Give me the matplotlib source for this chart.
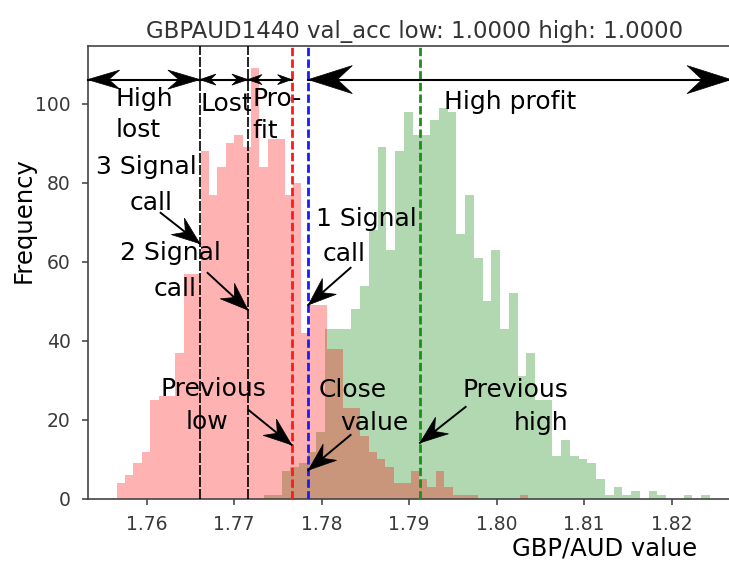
import numpy as np
import matplotlib
matplotlib.use("Agg")
import matplotlib.pyplot as plt
from matplotlib.patches import Polygon

# histogram counts
red_start = 1.75657
red_width = 0.00096
red_counts = [4, 6, 9, 12, 25, 26, 26, 37, 57, 57,
              88, 77, 84, 90, 92, 89, 109, 84, 91, 91,
              77, 80, 42, 49, 49, 38, 38, 23, 23, 16,
              12, 10, 8, 4, 4, 7, 5, 3, 7, 3,
              1, 1, 1, 0, 0, 0, 0, 0, 1, 0]

green_start = 1.77342
green_width = 0.000999
green_counts = [1, 1, 7, 8, 9, 12, 17, 43, 43, 43,
                48, 54, 68, 89, 63, 88, 98, 92, 92, 96,
                99, 98, 67, 77, 61, 50, 63, 43, 52, 31,
                37, 25, 25, 11, 15, 11, 10, 9, 5, 1,
                3, 1, 2, 0, 2, 1, 0, 0, 1, 0, 1]

# marker lines
high_lost_line = 1.76609
lost_line = 1.77158
prev_low = 1.77657
close_value = 1.77848
prev_high = 1.79124

xticks = [1.76, 1.77, 1.78, 1.79, 1.80, 1.81, 1.82]
yticks = [0, 20, 40, 60, 80, 100]

fig = plt.figure(figsize=(7.29, 5.63), dpi=100)
ax = fig.add_axes([88 / 729, 64 / 563, 653.6 / 729, 453 / 563])

red_edges = red_start + red_width * np.arange(len(red_counts) + 1)
green_edges = green_start + green_width * np.arange(len(green_counts) + 1)

ax.hist(green_edges[:-1], bins=green_edges, weights=green_counts, color="g", alpha=0.3)
ax.hist(red_edges[:-1], bins=red_edges, weights=red_counts, color="r", alpha=0.3)

ax.set_xlim(1.7533, 1.8280)
ax.set_ylim(0, 114.6)
ax.set_xticks(xticks)
ax.set_xticklabels(["%.2f" % t for t in xticks])
ax.set_yticks(yticks)

for s in ax.spines.values():
    s.set_color("#444444")
    s.set_linewidth(1.2)
ax.tick_params(labelsize=13.5, colors="#3a3a3a", length=4.5, width=1.1)
ax.tick_params(axis="x", pad=7)
ax.tick_params(axis="y", pad=8)

ax.set_title("GBPAUD1440 val_acc low: 1.0000 high: 1.0000", fontsize=16.5, color="#333333")

# vertical lines
for xv in [high_lost_line, lost_line]:
    ax.axvline(xv, color="k", lw=1.2, linestyle=(0, (6, 1.2)), zorder=4)
ax.axvline(prev_low, color="#ff1a1a", lw=2, linestyle=(0, (3, 1.2)), zorder=4)
ax.axvline(close_value, color="#1a1aff", lw=2, linestyle=(0, (3, 1.2)), zorder=4)
ax.axvline(prev_high, color="#1a8f1a", lw=2, linestyle=(0, (3, 1.2)), zorder=4)


def head(tip, tail, L, W):
    t = ax.transData.transform(tip)
    s = ax.transData.transform(tail)
    u = (t - s) / np.hypot(*(t - s))
    n = np.array([-u[1], u[0]])
    pts = np.array([t, t - L * u + W * n, t - 0.66 * L * u, t - L * u - W * n])
    pts = ax.transData.inverted().transform(pts)
    ax.add_patch(Polygon(pts, closed=True, fc="k", ec="k", lw=0.5,
                         clip_on=False, zorder=6))


def span(x0, x1, y, L, W):
    ax.plot([x0, x1], [y, y], color="k", lw=1.5, clip_on=False, zorder=5)
    head((x0, y), (x1, y), L, W)
    head((x1, y), (x0, y), L, W)


def pointer(tail, tip, L=28, W=10.5):
    ax.plot([tail[0], tip[0]], [tail[1], tip[1]], color="k", lw=1.4, zorder=5)
    head(tip, tail, L, W)


ya = 106.1
span(1.75326, high_lost_line, ya, 32, 9.5)
span(high_lost_line, lost_line, ya, 16, 5.5)
span(lost_line, prev_low, ya, 14, 5)
span(close_value, 1.8268, ya, 44, 14)

pointer((1.7616, 72.4), (high_lost_line, 64.6))
pointer((1.76697, 57.2), (lost_line, 47.8))
pointer((1.78331, 58.5), (close_value, 49.1))
pointer((1.77166, 22.5), (prev_low, 13.7))
pointer((1.78331, 16.2), (close_value, 7.3))
pointer((1.79646, 23.3), (prev_high, 14.2))

fs = 18
kw = dict(fontsize=fs, color="k", va="baseline", zorder=7)
ax.text(1.75646, 99.5, "High", ha="left", **kw)
ax.text(1.75646, 91.5, "lost", ha="left", **kw)
ax.text(1.76617, 98.2, "Lost", ha="left", **kw)
ax.text(1.77211, 99.5, "Pro-", ha="left", **kw)
ax.text(1.77211, 91.4, "fit", ha="left", **kw)
ax.text(1.79394, 98.7, "High profit", ha="left", **kw)

ax.text(1.76, 82.3, "3 Signal", ha="center", **kw)
ax.text(1.76057, 73.0, "call", ha="center", **kw)
ax.text(1.76269, 60.5, "2 Signal", ha="center", **kw)
ax.text(1.76331, 51.4, "call", ha="center", **kw)
ax.text(1.77931, 69.1, "1 Signal", ha="left", **kw)
ax.text(1.78011, 60.3, "call", ha="left", **kw)

ax.text(1.7676, 26.1, "Previous", ha="center", **kw)
ax.text(1.76691, 17.7, "low", ha="center", **kw)
ax.text(1.77966, 25.8, "Close", ha="left", **kw)
ax.text(1.78217, 17.5, "value", ha="left", **kw)
ax.text(1.80823, 25.8, "Previous", ha="right", **kw)
ax.text(1.80823, 17.5, "high", ha="right", **kw)

fig.text(24 / 729, 1 - 220.5 / 563, "Frequency", rotation=90, ha="center",
         va="center", fontsize=17.5)
fig.text(604.5 / 729, 7 / 563, "GBP/AUD value", ha="center", va="baseline",
         fontsize=17.5)

fig.savefig("out.png", dpi=100)
